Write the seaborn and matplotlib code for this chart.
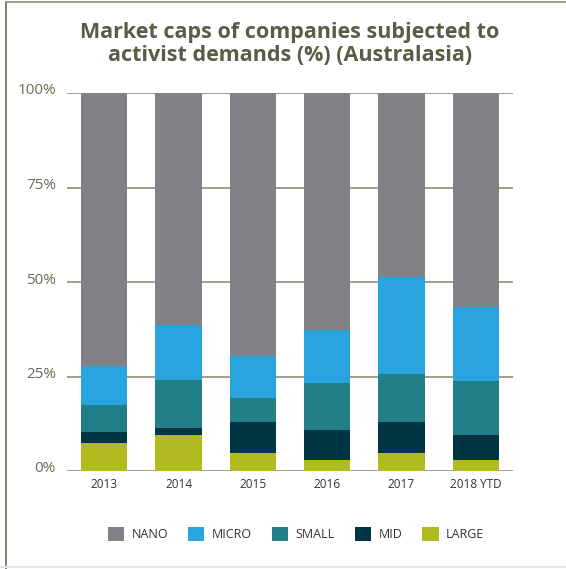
import numpy as np
import pandas as pd
import matplotlib
matplotlib.use("Agg")
import matplotlib.pyplot as plt
import matplotlib.transforms as mtransforms
from matplotlib.patches import Patch
from matplotlib.lines import Line2D
import seaborn as sns

years = ["2013", "2014", "2015", "2016", "2017", "2018 YTD"]
large = [7.4, 9.5, 4.8, 2.9, 4.8, 2.9]
mid = [2.9, 1.9, 8.1, 7.9, 8.1, 6.6]
small = [7.1, 12.6, 6.4, 12.4, 12.7, 14.3]
micro = [10.4, 14.6, 11.2, 14.1, 25.7, 19.6]
nano = [72.2, 61.4, 69.5, 62.7, 48.7, 56.6]

series_names = ["NANO", "MICRO", "SMALL", "MID", "LARGE"]
colors = {"NANO": "#818286", "MICRO": "#29A4DE", "SMALL": "#217F88",
          "MID": "#003544", "LARGE": "#B0BB1F"}
yticks = [0, 25, 50, 75, 100]
ytick_labels = ["0%", "25%", "50%", "75%", "100%"]
title = "Market caps of companies subjected to\nactivist demands (%) (Australasia)"

sns.set_theme(style="white")
plt.rcParams["font.family"] = ["Open Sans", "DejaVu Sans"]

df = pd.DataFrame({"year": years, "LARGE": large, "MID": mid, "SMALL": small,
                   "MICRO": micro, "NANO": nano})
stack_order = ["LARGE", "MID", "SMALL", "MICRO", "NANO"]
cum = df[stack_order].cumsum(axis=1)

fig = plt.figure(figsize=(5.66, 5.69), dpi=100)
ax = fig.add_axes([67/566, 1-471/569, (513-67)/566, (471-93)/569])

for s in reversed(stack_order):
    sns.barplot(x=df["year"], y=cum[s], color=colors[s], width=0.62,
                saturation=1, ax=ax, zorder=3, edgecolor="none", linewidth=0)

ax.set_xlim(-0.5, 5.5)
ax.set_ylim(0, 100)
ax.set_yticks(yticks)
ax.set_yticklabels(ytick_labels)
for y in yticks:
    ax.axhline(y, color="#8e8f7a", lw=1.2, zorder=1)
for sp in ax.spines.values():
    sp.set_visible(False)
ax.set_xlabel("")
ax.set_ylabel("")
ax.tick_params(axis="y", length=0, pad=8, labelsize=11, labelcolor="#6b6b55")
ax.tick_params(axis="x", length=0, pad=5, labelsize=8.5, labelcolor="#333333")
offset = mtransforms.ScaledTranslation(0, 4/100, fig.dpi_scale_trans)
for lab in ax.get_yticklabels():
    lab.set_transform(lab.get_transform() + offset)

fig.text(290/566, 1-44/569, title, ha="center", va="center", fontsize=15.5,
         fontweight="bold", color="#5a5c45", linespacing=1.15)

handles = [Patch(facecolor=colors[n], edgecolor="none") for n in series_names]
fig.legend(handles, series_names, loc="center", bbox_to_anchor=(296/566, 1-534/569),
           ncol=5, frameon=False, fontsize=9, handlelength=1.3, handleheight=1.3,
           handletextpad=0.6, columnspacing=1.6, labelcolor="#333333")

fig.add_artist(Line2D([6/566, 6/566], [0, 1-2/569], transform=fig.transFigure,
                      color="#6b6a4f", lw=1.2))
fig.add_artist(Line2D([6/566, 1], [1-2/569, 1-2/569], transform=fig.transFigure,
                      color="#8e8f7a", lw=1.2))
fig.add_artist(Line2D([0, 1], [1-567/569, 1-567/569], transform=fig.transFigure,
                      color="#e3e3e3", lw=1.5))

fig.savefig("out.png", dpi=100)
